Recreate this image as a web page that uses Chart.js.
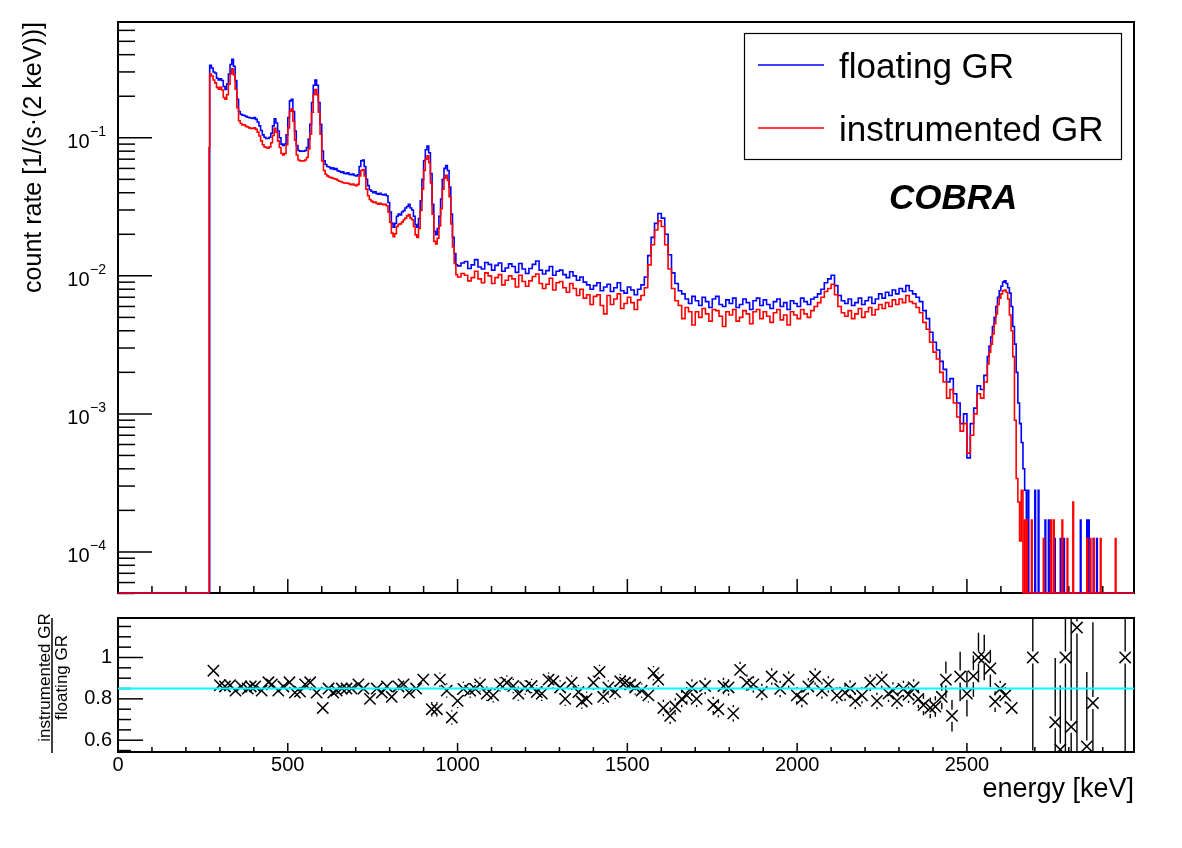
<!DOCTYPE html>
<html><head><meta charset="utf-8">
<script src="https://cdn.jsdelivr.net/npm/chart.js@4.4.1/dist/chart.umd.min.js"></script>
<style>
html,body{margin:0;padding:0;background:#fff;}
#wrap{position:relative;width:1182px;height:848px;background:#fff;overflow:hidden;}
canvas{position:absolute;left:0;}
#top{top:0;} #bot{top:600px;}
</style></head><body>
<div id="wrap"><canvas id="top" width="1182" height="600"></canvas><canvas id="bot" width="1182" height="248"></canvas></div>
<script>
// ---------- data (bin low edges in keV, count rate in 1/(s*2keV)) ----------
const energyLow = [0,268,
270,275,280,285,290,295,300,305,310,315,
320,325,330,335,340,345,350,355,360,365,
370,375,380,385,390,395,400,405,410,415,
420,425,430,435,440,445,450,455,460,465,
470,475,480,485,490,495,500,505,510,515,
520,525,530,535,540,545,550,555,560,565,
570,575,580,585,590,595,600,605,610,615,
620,625,630,635,640,645,650,655,660,665,
670,675,680,685,690,695,700,705,710,715,
720,725,730,735,740,745,750,755,760,765,
770,775,780,785,790,795,800,805,810,815,
820,825,830,835,840,845,850,855,860,865,
870,875,880,885,890,895,900,905,910,915,
920,925,930,935,940,945,950,955,960,965,
970,975,980,985,990,995,
1000,1010,1020,1030,1040,1050,1060,1070,1080,1090,
1100,1110,1120,1130,1140,1150,1160,1170,1180,1190,
1200,1210,1220,1230,1240,1250,1260,1270,1280,1290,
1300,1310,1320,1330,1340,1350,1360,1370,1380,1390,
1400,1410,1420,1430,1440,1450,1460,1470,1480,1490,
1500,1510,1520,1530,1540,1550,1560,1570,1580,1590,
1600,1610,1620,1630,1640,1650,1660,1670,1680,1690,
1700,1710,1720,1730,1740,1750,1760,1770,1780,1790,
1800,1810,1820,1830,1840,1850,1860,1870,1880,1890,
1900,1910,1920,1930,1940,1950,1960,1970,1980,1990,
2000,2010,2020,2030,2040,2050,2060,2070,2080,2090,
2100,2110,2120,2130,2140,2150,2160,2170,2180,2190,
2200,2210,2220,2230,2240,2250,2260,2270,2280,2290,
2300,2310,2320,2330,2340,2350,2360,2370,2380,2390,
2400,2410,2420,2430,2440,2450,2460,2470,2480,2490,
2500,2510,2520,2530,2540,2550,
2560,2565,2570,2575,2580,2585,2590,2595,2600,2605,
2610,2615,2620,2625,2630,2635,2640,2645,2650,2655,
2660,2665,2670];

const floatingRate = [0,0,
.335,.32,.30,.295,.27,.262,.268,.26,.235,.224,
.245,.29,.34,.37,.33,.26,.19,.155,.148,.146,
.145,.143,.141,.14,.139,.138,.14,.136,.13,.122,
.113,.105,.101,.099,.099,.101,.108,.122,.137,.128,
.112,.100,.090,.088,.090,.105,.140,.185,.19,.155,
.112,.088,.081,.080,.080,.080,.081,.085,.098,.125,
.18,.24,.262,.24,.18,.125,.08,.068,.064,.062,
.0615,.0598,.0607,.0590,.0598,.0578,.0572,.0561,.0568,.0552,
.055,.0558,.0543,.0540,.0547,.0533,.053,.054,.062,.068,
.069,.062,.05,.045,.042,.041,.040,.0407,.0394,.039,
.0397,.0388,.0386,.039,.038,.034,.029,.024,.0225,.024,
.027,.028,.0276,.029,.0297,.031,.0318,.033,.031,.030,
.027,.0235,.0225,.026,.035,.05,.068,.082,.087,.078,
.055,.033,.021,.0199,.022,.027,.036,.05,.06,.063,
.058,.044,.028,.019,.0145,.012,
.0118,.0124,.0127,.0113,.0120,.0131,.0116,.0112,.0125,.0121,
.0110,.0119,.0124,.0108,.0114,.0122,.0117,.0106,.0123,.0112,
.0104,.0113,.0121,.0128,.0110,.0103,.0109,.0117,.0101,.0108,
.0110,.0102,.0097,.0107,.0100,.0093,.0098,.0090,.0086,.0080,
.0085,.0089,.0078,.0083,.0087,.0077,.0082,.0089,.0078,.0075,
.0083,.0079,.0073,.0080,.0086,.0098,.0140,.0190,.0240,.0283,
.0262,.0200,.0142,.0105,.0088,.0078,.0074,.0068,.0063,.0071,
.0066,.0061,.0070,.0065,.0059,.0068,.0071,.0062,.0060,.0067,
.0063,.0069,.0059,.0062,.0068,.0064,.0057,.0066,.0069,.0061,
.0067,.0062,.0058,.0065,.0068,.0060,.0064,.0057,.0066,.0063,
.0060,.0069,.0065,.0062,.0068,.0070,.0074,.0080,.0089,.0095,
.0101,.0085,.0072,.0066,.0063,.0068,.0061,.0064,.0069,.0062,
.0066,.0070,.0063,.0068,.0074,.0069,.0076,.0072,.0079,.0074,
.0081,.0077,.0085,.0078,.0074,.0070,.0065,.0056,.0049,.0039,
.0033,.0029,.0024,.0021,.0017,.0018,.0014,.0012,.00085,.0010,
.00048,.00085,.0011,.0016,.0015,.0019,
.0026,.0031,.0036,.0043,.0050,.0060,.0070,.0078,.0084,.0090,
.0092,.0088,.0082,.0075,.0060,.0043,.0032,.0020,.0012,.00085,
.00062,.00040,.00028];

const instrumentedRate = [0,.085,
.29,.28,.262,.25,.232,.225,.232,.222,.196,.19,
.205,.245,.29,.316,.285,.225,.165,.133,.127,.124,
.124,.121,.12,.118,.117,.117,.118,.115,.11,.103,
.095,.089,.086,.085,.084,.086,.092,.104,.117,.11,
.095,.085,.077,.075,.077,.089,.118,.156,.162,.132,
.096,.075,.069,.068,.068,.068,.069,.072,.083,.106,
.153,.205,.224,.205,.153,.106,.068,.058,.0545,.053,
.052,.0515,.051,.0505,.0502,.0493,.0485,.048,.0475,.047,
.0468,.047,.0463,.0458,.0462,.0455,.045,.046,.053,.058,
.059,.053,.0425,.038,.0357,.0348,.034,.0343,.0335,.033,
.0335,.0331,.0327,.033,.0322,.029,.0245,.0204,.0192,.0202,
.0228,.0236,.0238,.0245,.0255,.0262,.0272,.0278,.0262,.0255,
.0228,.0198,.019,.022,.0298,.0425,.058,.07,.074,.066,
.047,.028,.0178,.017,.0187,.023,.0306,.0425,.051,.0535,
.049,.0374,.0238,.0162,.0123,.0102,
.0098,.0104,.0101,.0092,.0097,.0108,.0095,.0089,.0105,.0100,
.0088,.0097,.0102,.0086,.0093,.0100,.0095,.0083,.0101,.0091,
.0084,.0092,.0099,.0103,.0088,.0081,.0087,.0096,.0079,.0089,
.0091,.0082,.0076,.0088,.0081,.0072,.0080,.0069,.0073,.0062,
.0071,.0073,.0061,.0053,.0072,.0062,.0068,.0074,.0058,.0063,
.0070,.0064,.0057,.0067,.0072,.0082,.0120,.0168,.0215,.0250,
.0228,.0168,.0112,.0081,.0066,.0061,.0049,.0059,.0055,.0044,
.0055,.0050,.0058,.0053,.0047,.0057,.0056,.0051,.0043,.0055,
.0052,.0057,.0047,.0050,.0056,.0053,.0045,.0055,.0057,.0049,
.0055,.0051,.0046,.0054,.0057,.0048,.0052,.0044,.0055,.0052,
.0049,.0057,.0053,.0050,.0056,.0060,.0064,.0070,.0077,.0081,
.0087,.0073,.0060,.0054,.0051,.0056,.0049,.0053,.0058,.0050,
.0055,.0059,.0052,.0057,.0062,.0058,.0064,.0060,.0067,.0062,
.0068,.0064,.0072,.0065,.0063,.0059,.0054,.0046,.0041,.0033,
.0028,.0025,.0020,.0017,.0013,.0015,.0012,.00095,.00075,.00085,
.00052,.00070,.0010,.0014,.0013,.0017,
.0023,.0028,.0032,.0038,.0045,.0053,.0062,.0069,.0074,.0078,
.0079,.0076,.0068,.0052,.0040,.0026,.0009,.00034,.00023,.00012,
.00028,0,.00017];

const floatingTailEnergy = [2675,2680,2682,2700,2702,2710,2712,2730,2732,2740,2742,2758,2760,2775,2777,2785,2787,2834,2836,2853,2855,2858,2860,2872,2874,2882,2884,2992];
const floatingTailRate   = [0,2.8e-4,0,2.8e-4,0,2.8e-4,0,1.7e-4,0,1.7e-4,0,1.25e-4,0,1.25e-4,0,1.25e-4,0,1.7e-4,0,1.7e-4,0,1.7e-4,0,1.25e-4,0,1.25e-4,0,0];
const instrumentedTailEnergy = [2675,2676,2678,2690,2692,2725,2727,2747,2749,2755,2757,2780,2782,2795,2797,2812,2814,2853,2855,2863,2865,2873,2875,2893,2895,2937,2939,2992];
const instrumentedTailRate   = [0,1.7e-4,0,1.7e-4,0,1.25e-4,0,1.7e-4,0,1.7e-4,0,1.7e-4,0,1.25e-4,0,2.3e-4,0,1.25e-4,0,1.25e-4,0,1.25e-4,0,1.25e-4,0,1.25e-4,0,0];

// ratio instrumented / floating (rebinned)
const ratioEnergy = [
281,300,315,330,346,363,382,391,404,423,
443,453,472,487,505,521,536,551,566,585,
603,620,634,644,659,673,688,708,723,742,
762,777,792,806,826,841,857,878,899,924,
939,948,968,983,1000,1017,1037,1052,1066,1086,
1105,1125,1145,1164,1179,1199,1218,1233,1248,1268,
1282,1302,1317,1336,1356,1366,1380,1400,1418,1429,
1444,1464,1479,1493,1508,1523,1542,1562,1577,1591,
1606,1626,1641,1660,1675,1690,1704,1729,1753,1768,
1783,1798,1812,1832,1852,1871,1896,1925,1950,1975,
1999,2014,2033,2053,2073,2092,2117,2141,2156,2171,
2191,2215,2235,2249,2269,2282,2294,2313,2328,2343,
2357,2372,2392,2407,2426,2438,2456,2480,2500,2519,
2534,2551,2569,2583,2598,2613,2632,2694,2760,2775,
2790,2807,2824,2853,2871,2966];
const ratioValue = [
.936,.866,.86,.866,.84,.86,.85,.86,.86,.84,
.88,.87,.84,.86,.88,.83,.835,.87,.88,.83,
.756,.85,.83,.84,.85,.85,.85,.87,.85,.80,
.85,.83,.86,.81,.86,.87,.83,.85,.893,.75,
.75,.893,.84,.71,.79,.848,.84,.848,.87,.825,
.817,.87,.878,.862,.825,.855,.862,.833,.825,.893,
.885,.855,.80,.878,.833,.787,.80,.878,.93,.81,
.855,.833,.885,.878,.87,.855,.84,.817,.924,.893,
.756,.718,.763,.80,.817,.855,.80,.862,.77,.75,
.862,.855,.73,.94,.878,.87,.833,.908,.848,.893,
.817,.80,.86,.908,.84,.87,.817,.83,.85,.79,
.817,.878,.79,.893,.825,.84,.79,.848,.82,.855,
.80,.77,.756,.763,.81,.893,.718,.908,.825,.91,
1.0,1.0,.947,.787,.848,.817,.756,1.0,.687,.555,
1.0,.665,1.145,.57,.78,1.0];
const ratioError = [
.02,.015,.015,.015,.015,.015,.015,.015,.015,.015,
.015,.015,.015,.015,.015,.015,.015,.015,.015,.015,
.015,.015,.015,.015,.015,.015,.015,.015,.015,.015,
.015,.015,.015,.015,.015,.015,.015,.015,.03,.035,
.035,.035,.035,.035,.035,.035,.035,.035,.035,.035,
.035,.035,.035,.035,.035,.035,.035,.035,.035,.035,
.035,.035,.035,.035,.035,.035,.035,.035,.035,.035,
.035,.035,.035,.035,.035,.035,.035,.035,.035,.035,
.04,.04,.04,.04,.04,.04,.04,.04,.04,.04,
.04,.04,.04,.04,.04,.04,.04,.04,.04,.04,
.04,.04,.04,.04,.04,.04,.04,.04,.04,.04,
.04,.04,.04,.04,.04,.04,.04,.04,.04,.04,
.045,.05,.05,.05,.06,.088,.076,.12,.11,.10,
.12,.11,.09,.05,.04,.04,.03,.45,.31,.31,
.5,.55,.6,.36,.39,.6];
const ratioFitLevel = 0.85;

// axis ranges, ticks and labels
const energyMin = 0, energyMax = 2992;
const rateMin = 5.04e-5, rateMax = 0.69;
const ratioMin = 0.543, ratioMax = 1.191;
const energyMajorTicks = [0,500,1000,1500,2000,2500];
const energyTickLabels = ['0','500','1000','1500','2000','2500'];
const energyMinorTicks = [100,200,300,400,600,700,800,900,1100,1200,1300,1400,1600,1700,1800,1900,2100,2200,2300,2400,2600,2700,2800,2900];
const logMajorTicks = [1e-4,1e-3,1e-2,1e-1];
const logTickExponents = ['\u22124','\u22123','\u22122','\u22121'];
const logMinorTicks = [5e-5,6e-5,7e-5,8e-5,9e-5,2e-4,3e-4,4e-4,5e-4,6e-4,7e-4,8e-4,9e-4,2e-3,3e-3,4e-3,5e-3,6e-3,7e-3,8e-3,9e-3,2e-2,3e-2,4e-2,5e-2,6e-2,7e-2,8e-2,9e-2,2e-1,3e-1,4e-1,5e-1,6e-1];
const ratioMajorTicks = [0.6,0.8,1.0];
const ratioTickLabels = ['0.6','0.8','1'];
const ratioMinorTicks = [0.55,0.65,0.7,0.75,0.85,0.9,0.95,1.05,1.1,1.15];

// ---------- drawing ----------
const FONT = '"Liberation Sans", Arial, Helvetica, sans-serif';
Chart.defaults.font.family = FONT;
Chart.defaults.color = '#000';

function seg(ctx, x1, y1, x2, y2) { ctx.beginPath(); ctx.moveTo(x1, y1); ctx.lineTo(x2, y2); ctx.stroke(); }

// empty bins are drawn on the lower edge of the log axis, as a histogram would
const onLogAxis = v => (v > 0 ? v : rateMin);
const floatingPoints = energyLow.map((e, i) => ({x: e, y: onLogAxis(floatingRate[i])}))
  .concat(floatingTailEnergy.map((e, i) => ({x: e, y: onLogAxis(floatingTailRate[i])})));
const instrumentedPoints = energyLow.map((e, i) => ({x: e, y: onLogAxis(instrumentedRate[i])}))
  .concat(instrumentedTailEnergy.map((e, i) => ({x: e, y: onLogAxis(instrumentedTailRate[i])})));
const ratioPoints = ratioEnergy.map((e, i) => ({x: e, y: ratioValue[i]}));

const topDecor = {
  id: 'topDecor',
  beforeDatasetsDraw(chart) {
    const {ctx, chartArea: a, scales: {x, y}} = chart;
    ctx.save();
    ctx.strokeStyle = '#000';
    ctx.lineWidth = 2;
    ctx.strokeRect(a.left, a.top, a.right - a.left, a.bottom - a.top);
    ctx.lineWidth = 1.5;
    energyMinorTicks.forEach(e => { const px = x.getPixelForValue(e); seg(ctx, px, a.bottom, px, a.bottom - 7); });
    energyMajorTicks.forEach(e => { const px = x.getPixelForValue(e); seg(ctx, px, a.bottom, px, a.bottom - 14); });
    logMinorTicks.forEach(v => { const py = y.getPixelForValue(v); seg(ctx, a.left, py, a.left + 17, py); });
    logMajorTicks.forEach(v => { const py = y.getPixelForValue(v); seg(ctx, a.left, py, a.left + 34, py); });
    ctx.fillStyle = '#000';
    ctx.textBaseline = 'alphabetic';
    logMajorTicks.forEach((v, i) => {
      const py = y.getPixelForValue(v);
      const xr = 106;
      ctx.font = '14px ' + FONT;
      const sw = ctx.measureText(logTickExponents[i]).width;
      ctx.textAlign = 'left';
      ctx.fillText(logTickExponents[i], xr - sw, py - 2);
      ctx.font = '20px ' + FONT;
      ctx.textAlign = 'right';
      ctx.fillText('10', xr - sw - 0.5, py + 10);
    });
    ctx.restore();
  },
  afterDatasetsDraw(chart) {
    const {ctx} = chart;
    const ds = chart.data.datasets;
    const entries = [ds[1], ds[0]];
    ctx.save();
    ctx.fillStyle = '#fff';
    ctx.fillRect(744, 33, 378, 127);
    ctx.strokeStyle = '#000';
    ctx.lineWidth = 1.2;
    ctx.strokeRect(744.5, 33.5, 377, 126);
    ctx.font = '35px ' + FONT;
    ctx.textAlign = 'left';
    ctx.textBaseline = 'alphabetic';
    entries.forEach((d, i) => {
      const ly = 65 + i * 63;
      ctx.strokeStyle = d.borderColor;
      ctx.lineWidth = 1.5;
      seg(ctx, 758, ly, 824, ly);
      ctx.fillStyle = '#000';
      ctx.fillText(d.label, 839, ly + 12.7);
    });
    ctx.font = 'italic bold 35px ' + FONT;
    ctx.fillText('COBRA', 889, 209);
    ctx.restore();
  }
};

const botDecor = {
  id: 'botDecor',
  beforeDatasetsDraw(chart) {
    const {ctx, chartArea: a, scales: {x, y}} = chart;
    ctx.save();
    ctx.strokeStyle = '#000';
    ctx.lineWidth = 2;
    ctx.strokeRect(a.left, a.top, a.right - a.left, a.bottom - a.top);
    ctx.lineWidth = 1.5;
    energyMinorTicks.forEach(e => { const px = x.getPixelForValue(e); seg(ctx, px, a.bottom, px, a.bottom - 5); });
    energyMajorTicks.forEach(e => { const px = x.getPixelForValue(e); seg(ctx, px, a.bottom, px, a.bottom - 9); });
    ratioMinorTicks.forEach(v => { const py = y.getPixelForValue(v); seg(ctx, a.left, py, a.left + 13, py); });
    ratioMajorTicks.forEach(v => { const py = y.getPixelForValue(v); seg(ctx, a.left, py, a.left + 25, py); });
    // y-axis title as a fraction
    ctx.fillStyle = '#000';
    ctx.font = '17px ' + FONT;
    ctx.textAlign = 'center';
    ctx.textBaseline = 'alphabetic';
    const cy = 77.5;
    ctx.save(); ctx.translate(50, cy); ctx.rotate(-Math.PI / 2); ctx.fillText('instrumented GR', 0, 0); ctx.restore();
    ctx.save(); ctx.translate(67, cy); ctx.rotate(-Math.PI / 2); ctx.fillText('floating GR', 0, 0); ctx.restore();
    ctx.lineWidth = 1.5;
    seg(ctx, 52, a.top, 52, a.top + 135);
    // error bars
    ctx.beginPath(); ctx.rect(a.left, a.top, a.right - a.left, a.bottom - a.top); ctx.clip();
    ctx.lineWidth = 1.4;
    const m = 6;
    ratioValue.forEach((v, i) => {
      const px = x.getPixelForValue(ratioEnergy[i]);
      const py = y.getPixelForValue(v);
      const up = y.getPixelForValue(v + ratioError[i]);
      const dn = y.getPixelForValue(v - ratioError[i]);
      if (py - up > m) seg(ctx, px, up, px, py - m);
      if (dn - py > m) seg(ctx, px, py + m, px, dn);
    });
    ctx.restore();
  }
};

new Chart(document.getElementById('top'), {
  type: 'line',
  data: {datasets: [
    {label: 'instrumented GR', data: instrumentedPoints, borderColor: '#ff0000', borderWidth: 1.6, stepped: 'before', pointRadius: 0, fill: false, order: 0, clip: {left: 0, top: 0, right: 0, bottom: 3}},
    {label: 'floating GR', data: floatingPoints, borderColor: '#0000ff', borderWidth: 1.6, stepped: 'before', pointRadius: 0, fill: false, order: 1, clip: {left: 0, top: 0, right: 0, bottom: 3}}
  ]},
  options: {
    responsive: false, animation: false, devicePixelRatio: 1,
    layout: {padding: {left: 0, right: 48, top: 22, bottom: 7}},
    plugins: {legend: {display: false}, tooltip: {enabled: false}},
    scales: {
      x: {type: 'linear', min: energyMin, max: energyMax, display: false},
      y: {type: 'logarithmic', min: rateMin, max: rateMax, position: 'left',
          ticks: {display: false}, grid: {display: false, drawTicks: false}, border: {display: false},
          title: {display: true, text: 'count rate [1/(s\u00b7(2 keV))]', align: 'end', color: '#000', font: {family: FONT, size: 25}, padding: {top: 19, bottom: 0}},
          afterFit(s) { s.width = 118; }}
    }
  },
  plugins: [topDecor]
});

new Chart(document.getElementById('bot'), {
  type: 'scatter',
  data: {datasets: [
    {type: 'line', label: 'mean ratio', data: [{x: energyMin, y: ratioFitLevel}, {x: energyMax, y: ratioFitLevel}], borderColor: '#00ffff', borderWidth: 1.8, pointRadius: 0, fill: false, order: 0},
    {label: 'instrumented GR / floating GR', data: ratioPoints, pointStyle: 'crossRot', pointRadius: 8, pointBorderWidth: 1.5, borderColor: '#000', backgroundColor: '#000', showLine: false, order: 1}
  ]},
  options: {
    responsive: false, animation: false, devicePixelRatio: 1,
    layout: {padding: {left: 0, right: 48, top: 10, bottom: 0}},
    plugins: {legend: {display: false}, tooltip: {enabled: false}},
    scales: {
      x: {type: 'linear', min: energyMin, max: energyMax, position: 'bottom',
          grid: {display: false, drawTicks: false}, border: {display: false},
          ticks: {color: '#000', font: {family: FONT, size: 20}, padding: 1, maxRotation: 0, autoSkip: false,
                  callback: (v, i) => energyTickLabels[i]},
          afterBuildTicks(s) { s.ticks = energyMajorTicks.map(v => ({value: v})); },
          title: {display: true, text: 'energy [keV]', align: 'end', color: '#000', font: {family: FONT, size: 27}, padding: {top: 0, bottom: 42}},
          afterFit(s) { s.height = 96; }},
      y: {type: 'linear', min: ratioMin, max: ratioMax, position: 'left',
          grid: {display: false, drawTicks: false}, border: {display: false},
          ticks: {color: '#000', font: {family: FONT, size: 20}, padding: 6, autoSkip: false,
                  callback: (v, i) => ratioTickLabels[i]},
          afterBuildTicks(s) { s.ticks = ratioMajorTicks.map(v => ({value: v})); },
          afterFit(s) { s.width = 118; }}
    }
  },
  plugins: [botDecor]
});
</script>
</body></html>
